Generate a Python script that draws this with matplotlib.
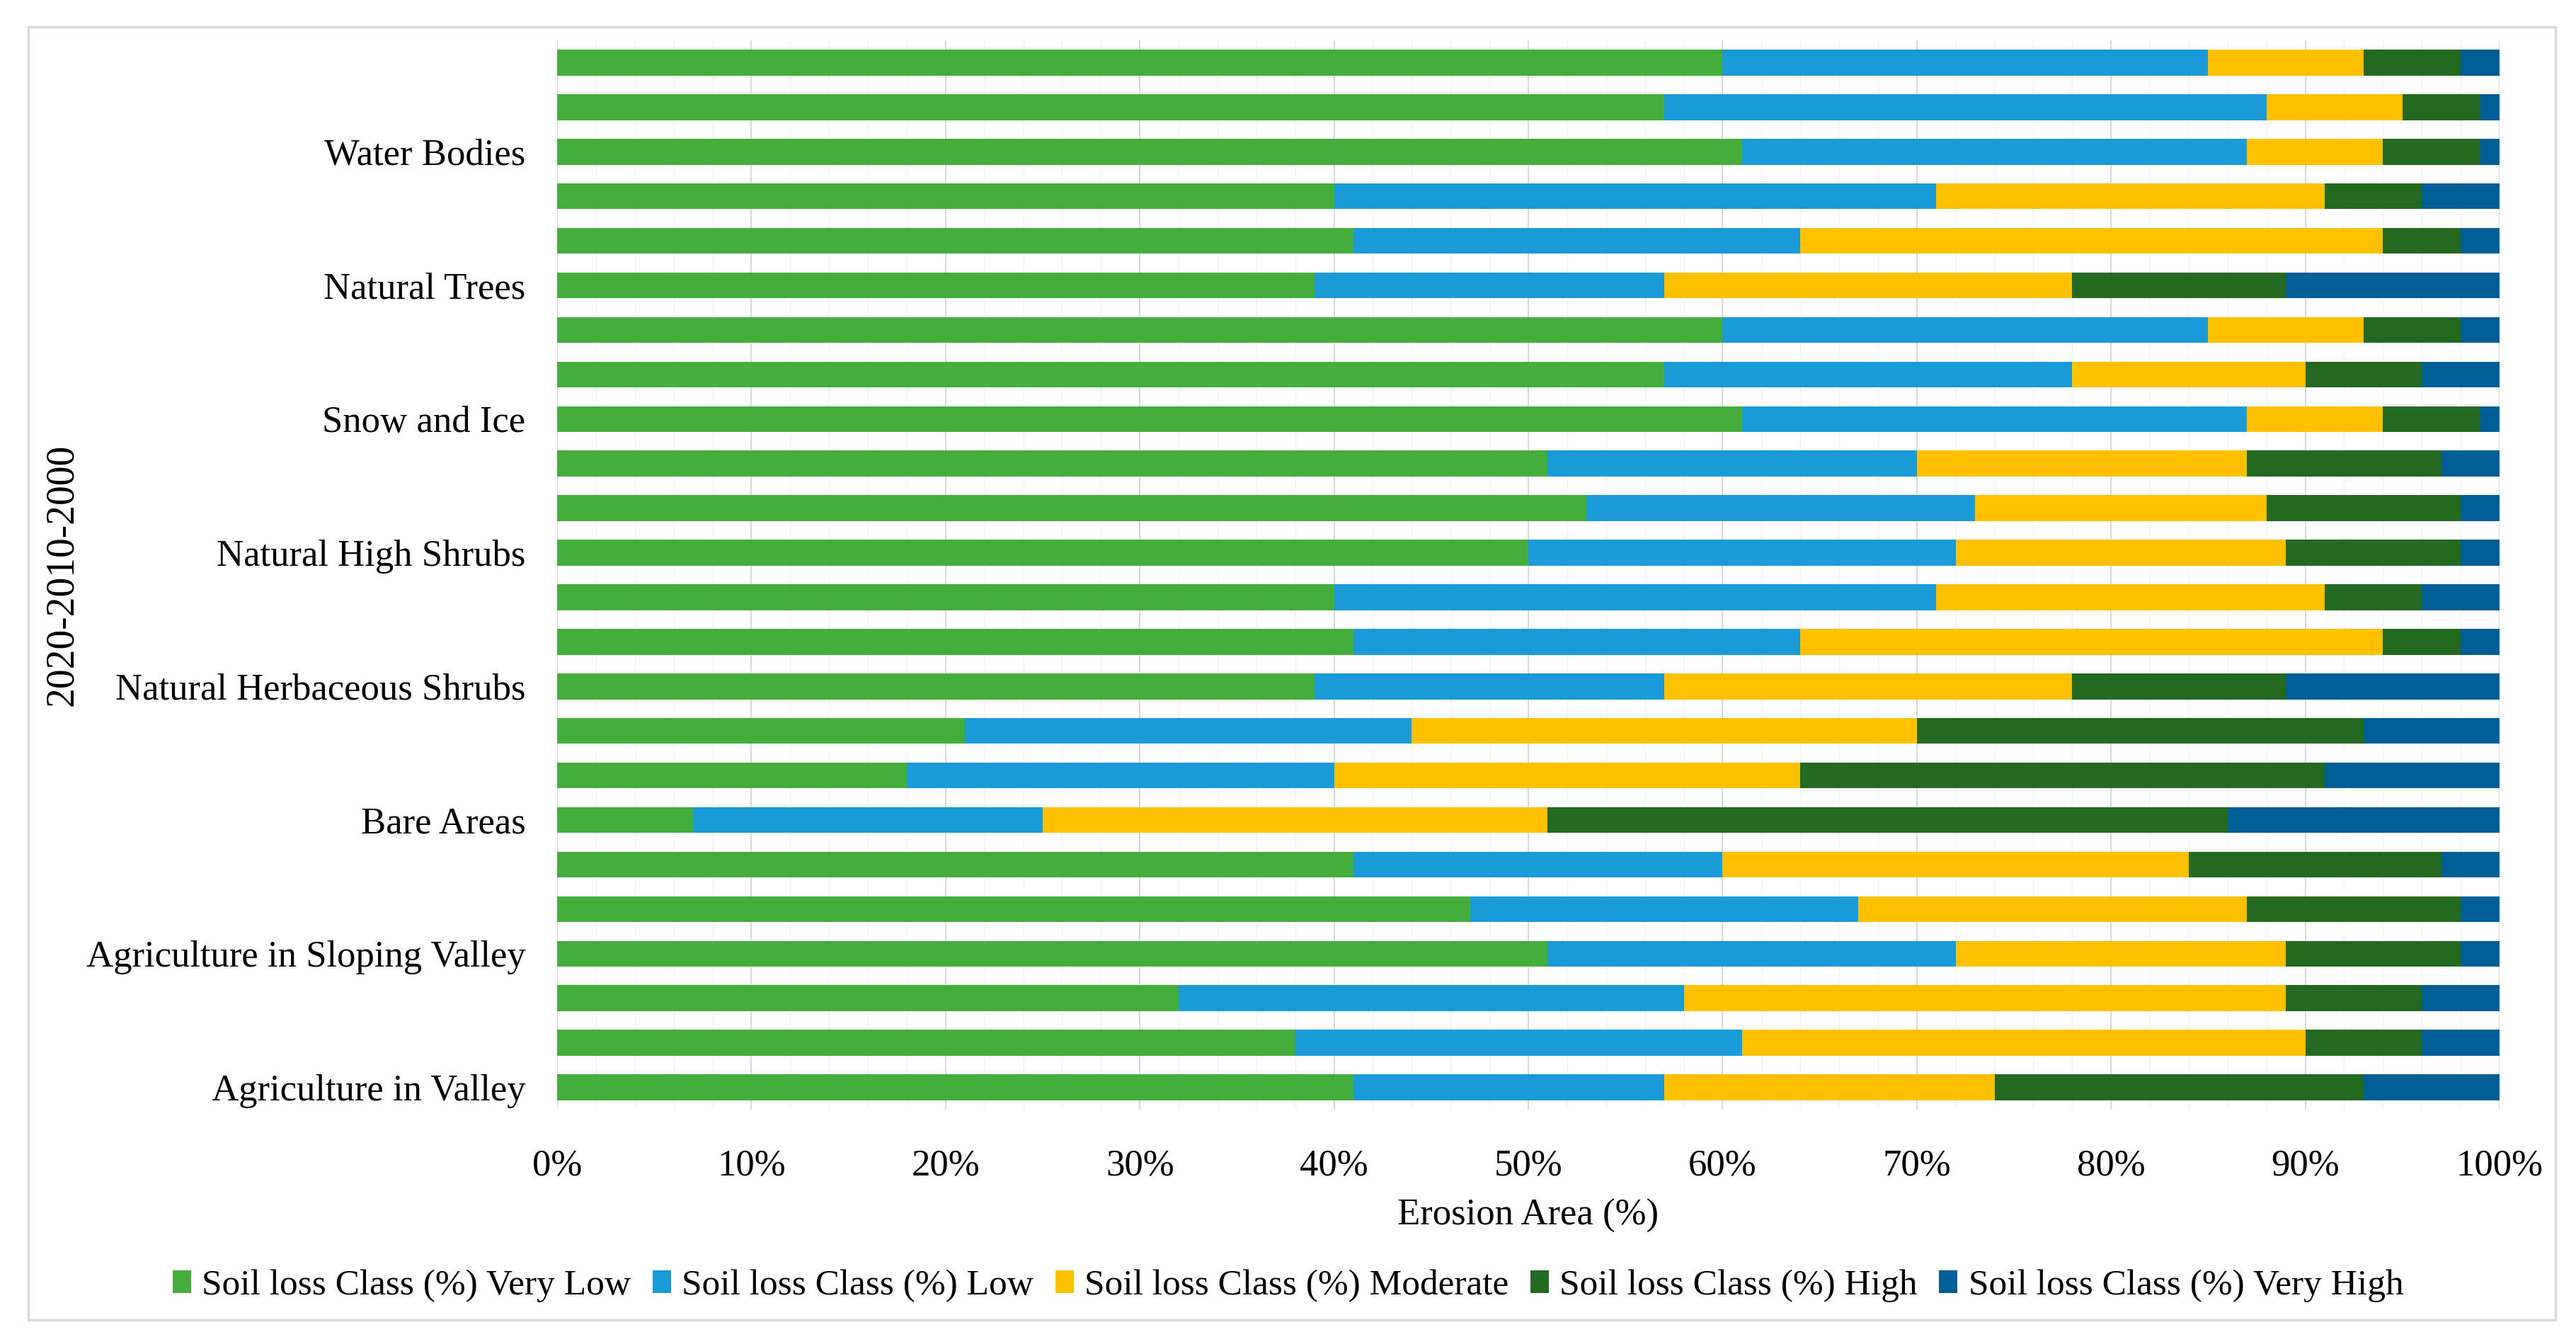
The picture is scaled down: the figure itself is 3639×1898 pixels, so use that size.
import numpy as np
import matplotlib
matplotlib.use("Agg")
import matplotlib.pyplot as plt
from matplotlib.patches import Rectangle

plt.rcParams['font.family'] = ['Liberation Serif', 'DejaVu Serif']

# bars from bottom to top, three years per land cover class
land_classes = ["Agriculture in Valley", "Agriculture in Sloping Valley", "Bare Areas",
                "Natural Herbaceous Shrubs", "Natural High Shrubs", "Snow and Ice",
                "Natural Trees", "Water Bodies"]
tick_labels = []
for name in land_classes:
    tick_labels += [name, "", ""]

very_low  = [41, 38, 32, 51, 47, 41,  7, 18, 21, 39, 41, 40, 50, 53, 51, 61, 57, 60, 39, 41, 40, 61, 57, 60]
low       = [16, 23, 26, 21, 20, 19, 18, 22, 23, 18, 23, 31, 22, 20, 19, 26, 21, 25, 18, 23, 31, 26, 31, 25]
moderate  = [17, 29, 31, 17, 20, 24, 26, 24, 26, 21, 30, 20, 17, 15, 17,  7, 12,  8, 21, 30, 20,  7,  7,  8]
high      = [19,  6,  7,  9, 11, 13, 35, 27, 23, 11,  4,  5,  9, 10, 10,  5,  6,  5, 11,  4,  5,  5,  4,  5]
very_high = [ 7,  4,  4,  2,  2,  3, 14,  9,  7, 11,  2,  4,  2,  2,  3,  1,  4,  2, 11,  2,  4,  1,  1,  2]

series = [very_low, low, moderate, high, very_high]
series_names = ["Soil loss Class (%) Very Low", "Soil loss Class (%) Low",
                "Soil loss Class (%) Moderate", "Soil loss Class (%) High",
                "Soil loss Class (%) Very High"]
colors = ["#45AD3B", "#1A9BD7", "#FFC000", "#246920", "#005E96"]

fig = plt.figure(figsize=(36.39, 18.98), dpi=100)
ax = fig.add_axes([787/3639, 1 - 1567/1898, (3531-787)/3639, (1567-57)/1898])

y = np.arange(len(very_low))
left = np.zeros(len(y))
for vals, name, c in zip(series, series_names, colors):
    vals = np.array(vals, dtype=float)
    ax.barh(y, vals, left=left, height=0.58, color=c, label=name, zorder=3)
    left += vals

ax.set_xlim(0, 100)
ax.set_ylim(-0.5, len(y) - 0.5)
ax.set_xticks(np.arange(0, 101, 10))
ax.set_xticklabels([f"{v}%" for v in range(0, 101, 10)])
ax.set_xticks(np.arange(0, 101, 2), minor=True)
ax.set_yticks(y)
ax.set_yticklabels(tick_labels)
ax.tick_params(axis='both', which='both', length=0, labelsize=38)
ax.tick_params(axis='y', pad=32)
ax.tick_params(axis='x', pad=40)
ax.grid(axis='x', which='major', color='#D9D9D9', linewidth=1.5, zorder=0)
ax.grid(axis='x', which='minor', color='#F2F2F2', linewidth=1.0, zorder=0)
for s in ax.spines.values():
    s.set_visible(False)

ax.set_xlabel("Erosion Area (%)", fontsize=38, va='center')
ax.xaxis.set_label_coords(0.5, -0.099)
ax.set_ylabel("2020-2010-2000", fontsize=40, va='center')
ax.yaxis.set_label_coords(-0.2547, 0.5)

fig.legend(loc='center', bbox_to_anchor=(0.5, 1 - 1816/1898), ncol=5, frameon=False,
           fontsize=37, handlelength=0.5, handleheight=0.6, handletextpad=0.3,
           columnspacing=0.6, borderaxespad=0)

fig.patches.append(Rectangle((40/3639, 1 - 1864/1898), 3570/3639, 1826/1898,
                             transform=fig.transFigure, fill=False,
                             edgecolor='#D9D9D9', linewidth=2.5))

fig.savefig("out.png", dpi=100, facecolor='white')
